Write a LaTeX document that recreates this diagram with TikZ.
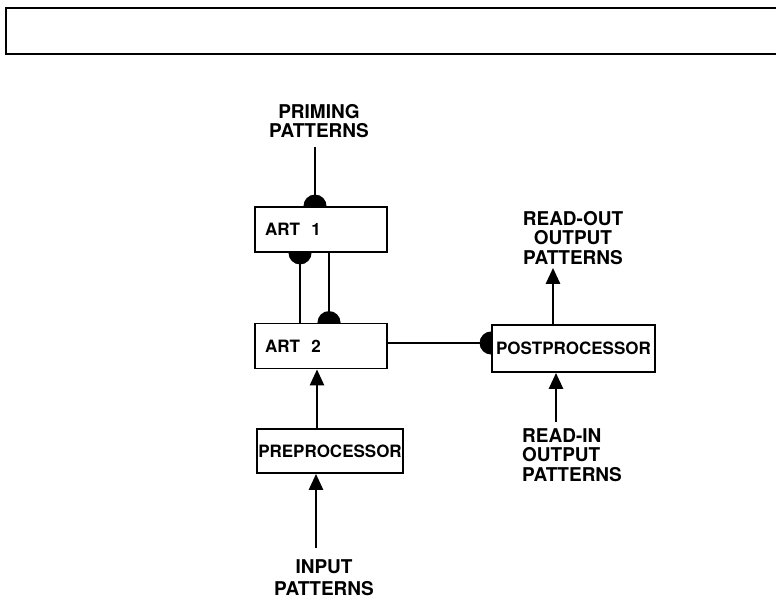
\documentclass[tikz,border=0pt]{standalone}
\usepackage{fontspec}
\setmainfont{TeX Gyre Heros}
\usetikzlibrary{arrows.meta,backgrounds}
\begin{document}
\begin{tikzpicture}[x=1pt,y=-1pt,
  font=\fontsize{17}{19}\selectfont\bfseries,
  box/.style={draw, line width=1.8pt, fill=white, inner sep=0pt},
  artbox/.style={box, minimum width=132pt, minimum height=45pt, text width=112pt, align=left},
  lbl/.style={inner sep=0pt, align=center, font=\fontsize{19}{19.5}\selectfont\bfseries},
  arr/.style={line width=2.6pt, -{Triangle[width=14pt,length=16pt]}},
  inhib/.style={line width=2.6pt, -{Circle[length=23pt]}, shorten >=-11.5pt}]
\useasboundingbox (0,0) rectangle (776,601);
\node[draw, line width=1.8pt, minimum width=800pt, minimum height=46pt, anchor=north west] (banner) at (5,7) {};
% boxes
\node[artbox] (art1) at (321,229.5) {ART\ \ 1};
\node[artbox] (art2) at (321,346) {ART\ \ 2};
\node[box, minimum width=146pt, minimum height=44pt] (pre) at (330,451) {PREPROCESSOR};
\node[box, minimum width=163pt, minimum height=47pt] (post) at (573.5,348.5) {POSTPROCESSOR};
% labels
\node[lbl] (priming) at (319,121) {PRIMING\\PATTERNS};
\node[lbl, font=\fontsize{19}{22}\selectfont\bfseries] (input) at (324,578) {INPUT\\PATTERNS};
\node[lbl] (readout) at (573,238) {READ-OUT\\OUTPUT\\PATTERNS};
\node[lbl, align=left, anchor=north west] (readin) at (522,428) {READ-IN\\OUTPUT\\PATTERNS};
% connectors
\begin{scope}[on background layer]
\draw[inhib] ([xshift=-4pt,yshift=-9pt]priming.south) -- ([xshift=-6pt]art1.north);
\draw[inhib] ([xshift=-21pt]art2.north) -- ([xshift=-21pt]art1.south);
\draw[inhib] ([xshift=8pt]art1.south) -- ([xshift=8pt]art2.north);
\draw[inhib] ([yshift=3pt]art2.east) -- ([yshift=3pt]art2.east -| post.west);
\draw[arr] ([xshift=-13pt]pre.north) -- ([xshift=-4pt]art2.south);
\draw[arr] ([xshift=-8pt,yshift=12pt]input.north) -- ([xshift=-14pt]pre.south);
\draw[arr] ([xshift=-20.5pt]post.north) -- ([xshift=-20pt,yshift=-3pt]readout.south);
\draw[arr] ([xshift=34pt,yshift=6pt]readin.north west) -- ([xshift=-17.5pt]post.south);
\end{scope}
\end{tikzpicture}
\end{document}
